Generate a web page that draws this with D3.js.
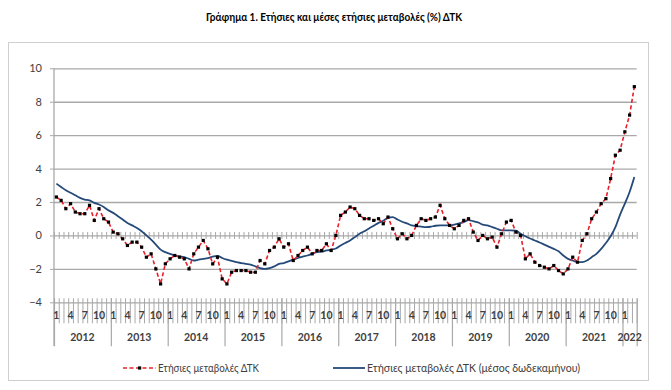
<!DOCTYPE html>
<html>
<head>
<meta charset="utf-8">
<script src="https://cdn.jsdelivr.net/npm/d3@7"></script>
<style>
  body { margin: 0; background: #fff; }
  text { font-family: Lato, "Open Sans", sans-serif; }
</style>
</head>
<body>
<svg width="671" height="390"></svg>
<script>
// ΔΤΚ monthly data, Jan 2012 - Mar 2022
var years = [2012, 2013, 2014, 2015, 2016, 2017, 2018, 2019, 2020, 2021, 2022];
var monthLabels = [1, 4, 7, 10];
var yTicks = [-4, -2, 0, 2, 4, 6, 8, 10];

var annualChange = [
    2.3, 2.1, 1.6, 1.9, 1.4, 1.3, 1.3, 1.8, 0.9, 1.6, 1.0, 0.8,
    0.2, 0.1, -0.2, -0.6, -0.4, -0.4, -0.7, -1.3, -1.1, -2.0, -2.9, -1.7,
    -1.4, -1.2, -1.3, -1.4, -2.0, -1.1, -0.7, -0.3, -0.8, -1.7, -1.3, -2.6,
    -2.9, -2.2, -2.1, -2.1, -2.1, -2.2, -2.2, -1.5, -1.7, -0.9, -0.7, -0.2,
    -0.7, -0.5, -1.5, -1.2, -0.9, -0.7, -1.1, -0.9, -0.9, -0.5, -0.9, 0.0,
    1.2, 1.4, 1.7, 1.6, 1.2, 1.0, 1.0, 0.9, 1.0, 0.7, 1.1, 0.4,
    -0.2, 0.1, -0.2, 0.0, 0.6, 1.0, 0.9, 1.0, 1.1, 1.8, 1.0, 0.6,
    0.4, 0.6, 0.9, 1.0, 0.2, -0.3, 0.0, -0.2, -0.1, -0.7, 0.1, 0.8,
    0.9, 0.2, 0.0, -1.4, -1.1, -1.6, -1.8, -1.9, -2.0, -1.8, -2.1, -2.3,
    -2.0, -1.3, -1.6, -0.3, 0.1, 1.0, 1.4, 1.9, 2.2, 3.4, 4.8, 5.1,
    6.2, 7.2, 8.9
];

var avgChange = [
    3.1, 2.9, 2.7, 2.55, 2.4, 2.25, 2.15, 2.1, 1.95, 1.85, 1.7, 1.5,
    1.35, 1.15, 0.95, 0.75, 0.6, 0.45, 0.25, 0.0, -0.25, -0.55, -0.85, -1.0,
    -1.1, -1.2, -1.25, -1.3, -1.4, -1.5, -1.45, -1.4, -1.35, -1.27, -1.22, -1.35,
    -1.45, -1.52, -1.6, -1.65, -1.7, -1.75, -1.85, -1.95, -2.0, -1.95, -1.85, -1.7,
    -1.65, -1.55, -1.45, -1.35, -1.27, -1.2, -1.1, -1.0, -0.97, -0.9, -0.85, -0.78,
    -0.6, -0.45, -0.3, -0.1, 0.1, 0.25, 0.42, 0.58, 0.75, 0.88, 1.05, 1.1,
    0.95, 0.82, 0.72, 0.6, 0.56, 0.53, 0.5, 0.52, 0.58, 0.6, 0.6, 0.6,
    0.65, 0.72, 0.8, 0.92, 0.85, 0.78, 0.65, 0.6, 0.5, 0.4, 0.3, 0.3,
    0.3, 0.28, 0.1, -0.05, -0.18, -0.3, -0.42, -0.55, -0.68, -0.8, -0.95, -1.2,
    -1.4, -1.5, -1.6, -1.6, -1.5, -1.3, -1.1, -0.8, -0.45, -0.05, 0.5, 1.25,
    1.9, 2.6, 3.5
];

var svg = d3.select("svg"),
    plotLeft = 54, plotRight = 636.7, plotTop = 68.3, plotBottom = 302.3,
    n = annualChange.length,
    gridColor = "#a9a9a9",
    textColor = "#404040";

var x = d3.scaleBand().domain(d3.range(n)).range([plotLeft, plotRight]);
var xb = d3.scaleLinear().domain([0, n]).range([plotLeft, plotRight]);
var y = d3.scaleLinear().domain([-4, 10]).range([plotBottom, plotTop]);
var cx = function(i) { return x(i) + x.bandwidth() / 2; };

function fit(sel, w) {
    sel.attr("textLength", w).attr("lengthAdjust", "spacingAndGlyphs");
}

// outer frame
svg.append("rect")
    .attr("x", 8.5).attr("y", 42.5)
    .attr("width", 640).attr("height", 338)
    .attr("fill", "none")
    .attr("stroke", "#cfcfcf");

// title
svg.append("text")
    .attr("x", 334).attr("y", 21)
    .attr("text-anchor", "middle")
    .attr("font-size", 11.5)
    .attr("font-weight", "bold")
    .attr("fill", "#000")
    .text("Γράφημα 1. Ετήσιες και μέσες ετήσιες μεταβολές (%) ΔΤΚ")
    .call(fit, 256);

// gridlines
var grid = svg.append("g")
    .attr("transform", "translate(" + plotLeft + ",0)")
    .call(d3.axisLeft(y).tickValues(yTicks).tickSize(-(plotRight - plotLeft)).tickFormat(""));
grid.select(".domain").remove();
grid.selectAll("line").attr("stroke", gridColor).attr("stroke-width", 1.3);

// y axis
var yAxis = svg.append("g")
    .attr("transform", "translate(" + plotLeft + ",0)")
    .call(d3.axisLeft(y).tickValues(yTicks).tickSize(4).tickSizeOuter(0).tickPadding(8));
yAxis.select(".domain").remove();
yAxis.selectAll("line").attr("stroke", gridColor);
yAxis.selectAll("text")
    .attr("font-size", 11)
    .attr("fill", textColor);

svg.append("line")
    .attr("x1", plotLeft).attr("x2", plotLeft)
    .attr("y1", plotTop).attr("y2", 346)
    .attr("stroke", gridColor).attr("stroke-width", 1.3);

// ticks crossing the zero line
var zeroAxis = svg.append("g")
    .attr("transform", "translate(0," + (y(0) - 3.5) + ")")
    .call(d3.axisBottom(xb).tickValues(d3.range(n + 1)).tickSize(7).tickFormat(""));
zeroAxis.select(".domain").remove();
zeroAxis.selectAll("line").attr("stroke", gridColor);

// category ticks at the bottom (months, then years)
var monthAxis = svg.append("g")
    .attr("transform", "translate(0," + (y(-4) - 4) + ")")
    .call(d3.axisBottom(xb).tickValues(d3.range(n + 1)).tickSize(25).tickFormat(""));
monthAxis.select(".domain").remove();
monthAxis.selectAll("line").attr("stroke", gridColor);

var yearStarts = years.map(function(yr, k) { return Math.min(k * 12, n); }).concat([n]);
var yearAxis = svg.append("g")
    .attr("transform", "translate(0," + (y(-4) - 4) + ")")
    .call(d3.axisBottom(xb).tickValues(yearStarts).tickSize(48).tickFormat(""));
yearAxis.select(".domain").remove();
yearAxis.selectAll("line").attr("stroke", gridColor).attr("stroke-width", 1.2);

// month labels
svg.append("g").selectAll("text")
    .data(d3.range(n).filter(function(i) { return monthLabels.indexOf(i % 12 + 1) >= 0; }))
    .enter().append("text")
    .attr("x", cx)
    .attr("y", 319)
    .attr("text-anchor", "middle")
    .attr("font-size", 10.5)
    .attr("font-weight", "bold")
    .attr("fill", textColor)
    .text(function(i) { return i % 12 + 1; });

// year labels
svg.append("g").selectAll("text")
    .data(years)
    .enter().append("text")
    .attr("x", function(yr, k) { return (xb(k * 12) + xb(Math.min(k * 12 + 12, n))) / 2; })
    .attr("y", 341)
    .attr("text-anchor", "middle")
    .attr("font-size", 10.5)
    .attr("font-weight", "bold")
    .attr("fill", textColor)
    .text(function(yr) { return yr; });

// 12-month average line
var avgLine = d3.line()
    .x(function(d, i) { return cx(i); })
    .y(function(d) { return y(d); })
    .curve(d3.curveMonotoneX);

svg.append("path")
    .datum(avgChange)
    .attr("fill", "none")
    .attr("stroke", "#254a7a")
    .attr("stroke-width", 1.8)
    .attr("d", avgLine);

// annual change line
var changeLine = d3.line()
    .x(function(d, i) { return cx(i); })
    .y(function(d) { return y(d); });

svg.append("path")
    .datum(annualChange)
    .attr("fill", "none")
    .attr("stroke", "#e8202a")
    .attr("stroke-width", 1.6)
    .attr("stroke-dasharray", "4,2.5")
    .attr("d", changeLine);

svg.append("g").selectAll("rect")
    .data(annualChange)
    .enter().append("rect")
    .attr("x", function(d, i) { return cx(i) - 1.6; })
    .attr("y", function(d) { return y(d) - 1.6; })
    .attr("width", 3.2).attr("height", 3.2)
    .attr("fill", "#000");

// legend
var legend = svg.append("g");
legend.append("line")
    .attr("x1", 123).attr("x2", 156).attr("y1", 368).attr("y2", 368)
    .attr("stroke", "#e8202a").attr("stroke-width", 1.6)
    .attr("stroke-dasharray", "4,2.5");
legend.append("rect")
    .attr("x", 138).attr("y", 366.4).attr("width", 3.2).attr("height", 3.2)
    .attr("fill", "#000");
legend.append("text")
    .attr("x", 158).attr("y", 372)
    .attr("font-size", 11)
    .attr("fill", textColor)
    .text("Ετήσιες μεταβολές ΔΤΚ")
    .call(fit, 101);

legend.append("line")
    .attr("x1", 333).attr("x2", 365).attr("y1", 368).attr("y2", 368)
    .attr("stroke", "#254a7a").attr("stroke-width", 1.8);
legend.append("text")
    .attr("x", 367).attr("y", 372)
    .attr("font-size", 11)
    .attr("fill", textColor)
    .text("Ετήσιες μεταβολές ΔΤΚ (μέσος δωδεκαμήνου)")
    .call(fit, 213);
</script>
</body>
</html>
